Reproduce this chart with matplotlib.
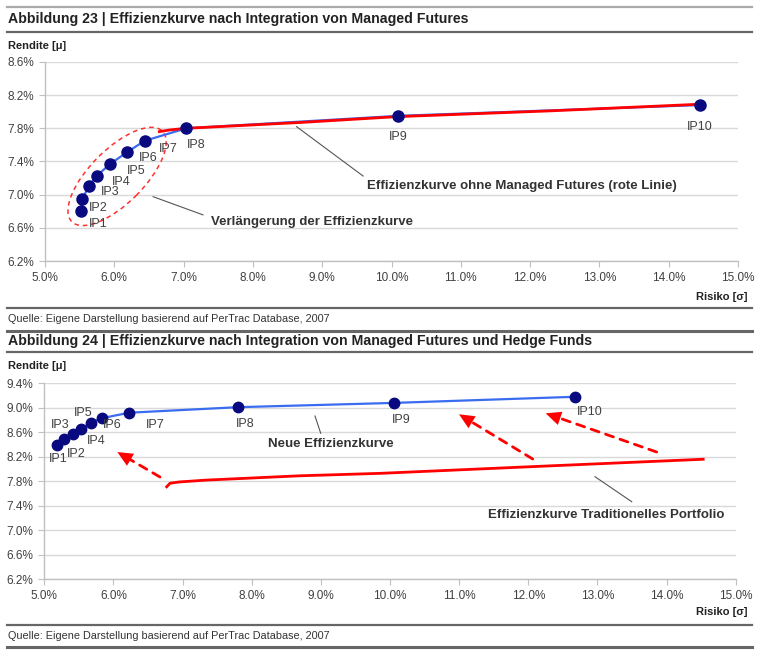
import matplotlib
matplotlib.use("Agg")
import matplotlib.pyplot as plt
from matplotlib.patches import Ellipse
from matplotlib.lines import Line2D
from matplotlib.transforms import ScaledTranslation

# --- data (risk / return in %) ---
labels = ["IP1", "IP2", "IP3", "IP4", "IP5", "IP6", "IP7", "IP8", "IP9", "IP10"]

# Abbildung 23: mit Managed Futures
mf_risk = [5.52, 5.54, 5.63, 5.75, 5.94, 6.18, 6.44, 7.04, 10.10, 14.45]
mf_return = [6.80, 6.95, 7.10, 7.23, 7.37, 7.51, 7.65, 7.80, 7.95, 8.08]
# rote Linie: ohne Managed Futures
trad1_risk = [6.65, 6.80, 7.04, 8.68, 10.07, 12.29, 14.45]
trad1_return = [7.76, 7.78, 7.80, 7.87, 7.94, 8.01, 8.09]

# Abbildung 24: mit Managed Futures und Hedge Funds
hf_risk = [5.19, 5.29, 5.41, 5.53, 5.68, 5.83, 6.23, 7.80, 10.06, 12.68]
hf_return = [8.40, 8.49, 8.57, 8.65, 8.76, 8.83, 8.92, 9.01, 9.08, 9.18]
# traditionelles Portfolio
trad2_risk = [6.77, 6.82, 6.96, 7.35, 8.70, 9.86, 12.27, 14.53]
trad2_return = [7.71, 7.77, 7.79, 7.82, 7.89, 7.93, 8.05, 8.16]

x_ticks = [5, 6, 7, 8, 9, 10, 11, 12, 13, 14, 15]
y_ticks1 = [6.2, 6.6, 7.0, 7.4, 7.8, 8.2, 8.6]
y_ticks2 = [6.2, 6.6, 7.0, 7.4, 7.8, 8.2, 8.6, 9.0, 9.4]

title1 = "Abbildung 23 | Effizienzkurve nach Integration von Managed Futures"
title2 = "Abbildung 24 | Effizienzkurve nach Integration von Managed Futures und Hedge Funds"
source = "Quelle: Eigene Darstellung basierend auf PerTrac Database, 2007"

# label offsets in pixels (dx right, dy up)
off1 = [(17, -13), (16, -9), (22, -6), (24, -6), (26, -7), (21, -6), (23, -8), (10, -17), (0, -21), (0, -22)]
off2 = [(1, -14), (12, -15), (-12, 9), (15, -12), (-8, 10), (11, -7), (26, -12), (7, -17), (7, -17), (14, -15)]

W, H = 770, 652
fig = plt.figure(figsize=(W / 100, H / 100), dpi=100)

narrow = ["Liberation Sans Narrow", "Liberation Sans", "DejaVu Sans"]
sans = ["Liberation Sans", "DejaVu Sans"]
txtcol = "#333333"


def fx(x):
    return x / W


def fy(y):
    return 1 - y / H


def hline(y, col="#666666", lw=1.6, x0=7, x1=752):
    fig.add_artist(Line2D([fx(x0), fx(x1)], [fy(y), fy(y)], transform=fig.transFigure,
                          color=col, lw=lw))


def style_axes(ax, yt):
    ax.set_xlim(5, 15)
    ax.set_ylim(yt[0], yt[-1])
    ax.set_xticks(x_ticks)
    ax.set_xticklabels([f"{v:.1f}%" for v in x_ticks])
    ax.set_yticks(yt)
    ax.set_yticklabels([f"{v:.1f}%" for v in yt])
    for s in ["top", "right"]:
        ax.spines[s].set_visible(False)
    for s in ["left", "bottom"]:
        ax.spines[s].set_color("#c0c0c0")
        ax.spines[s].set_linewidth(1)
    ax.tick_params(length=4, color="#c0c0c0", labelcolor="#404040", labelsize=8.5, pad=4)
    for t in ax.get_xticklabels() + ax.get_yticklabels():
        t.set_family(narrow)
    ax.grid(axis="y", color="#d9d9d9", lw=1)
    ax.set_axisbelow(True)
    ax.patch.set_alpha(0)


def point_labels(ax, xs, ys, offs):
    for lab, x, y, (dx, dy) in zip(labels, xs, ys, offs):
        ax.annotate(lab, (x, y), xytext=(dx * 0.72, dy * 0.72), textcoords="offset points",
                    ha="center", va="center", fontsize=9, color="#404040", family=narrow, zorder=6)


# rules and texts around the charts
hline(7, col="#aaaaaa")
hline(32)
hline(308)
hline(331, lw=2.2)
hline(352)
hline(625)
hline(647, lw=2.2)

fig.text(fx(8), fy(19), title1, fontsize=10.2, weight="bold", va="center", family=sans, color="#222222")
fig.text(fx(8), fy(341), title2, fontsize=10.2, weight="bold", va="center", family=sans, color="#222222")
for yy in (46, 366):
    fig.text(fx(8), fy(yy), "Rendite [μ]", fontsize=8, weight="bold", va="center", family=sans, color="#222222")
for yy in (297, 612):
    fig.text(fx(748), fy(yy), "Risiko [σ]", fontsize=8, weight="bold", va="center", ha="right",
             family=sans, color="#222222")
for yy in (319, 636):
    fig.text(fx(8), fy(yy), source, fontsize=7.8, va="center", family=narrow, color="#333333")

# ---------- Abbildung 23 ----------
ax1 = fig.add_axes([fx(45), fy(261.1), 693 / W, 199.2 / H])
style_axes(ax1, y_ticks1)
ax1.plot(mf_risk, mf_return, color="#3a6cf0", lw=1.6, zorder=3)
ax1.plot(trad1_risk, trad1_return, color="#ff0000", lw=2.0, zorder=4)
ax1.plot(mf_risk, mf_return, "o", color="#0a0a80", ms=8, zorder=5)
point_labels(ax1, mf_risk, mf_return, off1)

ell = Ellipse((0, 0), width=1.28, height=0.54, angle=45, fill=False, ec="#ff3030",
              ls=(0, (3, 2.5)), lw=1.1,
              transform=fig.dpi_scale_trans + ScaledTranslation(6.04, 7.22, ax1.transData))
ax1.add_patch(ell)

ax1.plot([8.63, 9.59], [7.82, 7.225], color="#555555", lw=0.8, zorder=2)
ax1.text(11.88, 7.105, "Effizienzkurve ohne Managed Futures (rote Linie)", ha="center", va="center",
         fontsize=9.5, weight="bold", family=sans, color=txtcol)
ax1.plot([6.56, 7.28], [6.976, 6.757], color="#555555", lw=0.8, zorder=2)
ax1.text(7.40, 6.675, "Verlängerung der Effizienzkurve", ha="left", va="center",
         fontsize=9.5, weight="bold", family=sans, color=txtcol)

# ---------- Abbildung 24 ----------
ax2 = fig.add_axes([fx(44.3), fy(579.3), 691.4 / W, 196 / H])
style_axes(ax2, y_ticks2)
ax2.plot(trad2_risk, trad2_return, color="#ff0000", lw=2.0, zorder=3)
ax2.plot(hf_risk, hf_return, color="#3a6cf0", lw=1.6, zorder=4)
ax2.plot(hf_risk, hf_return, "o", color="#0a0a80", ms=7.5, zorder=5)
point_labels(ax2, hf_risk, hf_return, off2)

arrows = [((6.673, 7.870), (6.056, 8.278)),
          ((12.064, 8.164), (10.998, 8.894)),
          ((13.857, 8.278), (12.252, 8.910))]
for tail, tip in arrows:
    # dashed shaft
    ax2.annotate("", xy=tip, xytext=tail,
                 arrowprops=dict(arrowstyle="-", color="#ff0000", lw=2.0, ls=(0, (3, 2.5)),
                                 shrinkA=0, shrinkB=6))
    # solid head
    ax2.annotate("", xy=tip, xytext=tail,
                 arrowprops=dict(arrowstyle="-|>,head_length=1.1,head_width=0.5", color="#ff0000",
                                 lw=0, shrinkA=0, shrinkB=0))

ax2.plot([8.915, 8.998], [8.866, 8.584], color="#555555", lw=0.8, zorder=2)
ax2.text(9.14, 8.409, "Neue Effizienzkurve", ha="center", va="center",
         fontsize=9.5, weight="bold", family=sans, color=txtcol)
ax2.plot([12.965, 13.496], [7.875, 7.467], color="#555555", lw=0.8, zorder=2)
ax2.text(13.13, 7.25, "Effizienzkurve Traditionelles Portfolio", ha="center", va="center",
         fontsize=9.5, weight="bold", family=sans, color=txtcol)

fig.savefig("out.png", dpi=100, facecolor="white")
